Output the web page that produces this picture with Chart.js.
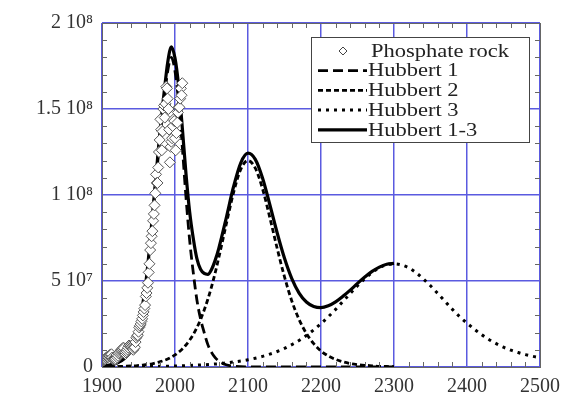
<!DOCTYPE html>
<html>
<head>
<meta charset="utf-8">
<script src="https://cdn.jsdelivr.net/npm/chart.js@4.4.1/dist/chart.umd.min.js"></script>
<style>
  body { margin: 0; background: #fff; }
  canvas { display: block; }
</style>
</head>
<body>
<canvas id="hubbertChart" width="581" height="398"></canvas>
<script>
// all values in units of 10^7 tonnes per year

// phosphate rock production, one value per year from 1900
const rockStartYear = 1900;
const rockValues = [
  0.32, 0.35, 0.38, 0.42, 0.45, 0.48, 0.54, 0.59, 0.56, 0.60,
  0.65, 0.70, 0.73, 0.74, 0.55, 0.45, 0.48, 0.46, 0.42, 0.48,
  0.70, 0.55, 0.65, 0.78, 0.85, 0.92, 0.98, 1.00, 1.06, 1.12,
  1.10, 0.85, 0.75, 0.84, 0.92, 1.02, 1.13, 1.25, 1.20, 1.21,
  1.15, 1.10, 1.05, 1.00, 1.10, 1.15, 1.45, 1.70, 1.80, 1.85,
  2.05, 2.30, 2.40, 2.50, 2.65, 2.80, 3.00, 3.20, 3.40, 3.60,
  4.10, 4.30, 4.60, 4.90, 5.50, 6.00, 6.80, 7.20, 7.60, 7.90,
  8.50, 8.90, 9.40, 10.1, 11.2, 10.7, 10.7, 11.6, 12.5, 13.2,
  14.4, 13.8, 12.6, 13.7, 15.0, 15.2, 14.5, 15.3, 16.3, 16.2,
  15.6, 15.0, 13.8, 11.9, 12.8, 13.1, 13.3, 14.0, 14.4, 14.3,
  13.3, 12.6, 13.6, 14.2, 14.8, 15.1, 15.1, 15.6, 16.2, 15.8,
  16.5
];

// years for Hubbert 1, Hubbert 2 and the sum
const curveYears = [
  1900, 1910, 1920, 1930, 1940, 1945, 1950, 1955, 1960, 1965,
  1970, 1975, 1980, 1985, 1990, 1995, 2000, 2005, 2010, 2015,
  2020, 2025, 2030, 2035, 2040, 2045, 2050, 2055, 2060, 2070,
  2080, 2090, 2100, 2110, 2120, 2130, 2140, 2150, 2160, 2170,
  2180, 2190, 2200, 2210, 2220, 2230, 2240, 2250, 2260, 2270,
  2280, 2290, 2300
];
const hubbert1 = [
  0.03, 0.08, 0.20, 0.45, 1.00, 1.50, 2.20, 3.30, 4.70, 6.70,
  9.00, 11.3, 13.6, 15.5, 17.2, 18.0, 17.2, 15.4, 12.8, 9.90,
  7.40, 5.50, 3.90, 2.80, 2.00, 1.30, 0.85, 0.55, 0.35, 0.13,
  0.05, 0.02, 0.01, 0, 0, 0, 0, 0, 0, 0,
  0, 0, 0, 0, 0, 0, 0, 0, 0, 0,
  0, 0, 0
];
const hubbert2 = [
  0.01, 0.015, 0.02, 0.04, 0.06, 0.07, 0.09, 0.11, 0.14, 0.16,
  0.20, 0.25, 0.31, 0.38, 0.46, 0.57, 0.70, 0.86, 1.05, 1.28,
  1.56, 1.89, 2.29, 2.76, 3.31, 3.94, 4.66, 5.47, 6.36, 8.26,
  10.11, 11.49, 12.0, 11.56, 10.35, 8.67, 6.89, 5.24, 3.84, 2.76,
  1.95, 1.36, 0.93, 0.64, 0.44, 0.30, 0.20, 0.14, 0.10, 0.07,
  0.04, 0.03, 0.02
];
const hubbertSum = [
  0.05, 0.11, 0.23, 0.51, 1.08, 1.59, 2.31, 3.44, 4.87, 6.89,
  9.23, 11.59, 13.95, 15.92, 17.71, 18.62, 17.96, 16.33, 13.92, 11.26,
  9.05, 7.49, 6.30, 5.68, 5.44, 5.39, 5.67, 6.20, 6.90, 8.63,
  10.45, 11.86, 12.43, 12.07, 10.97, 9.42, 7.79, 6.32, 5.14, 4.30,
  3.78, 3.52, 3.45, 3.56, 3.79, 4.11, 4.47, 4.86, 5.23, 5.56,
  5.81, 5.97, 6.02
];

// Hubbert 3 runs on to 2500
const h3Years = [
  1900, 1910, 1920, 1930, 1940, 1950, 1960, 1970, 1980, 1990,
  2000, 2010, 2020, 2030, 2040, 2050, 2060, 2070, 2080, 2090,
  2100, 2110, 2120, 2130, 2140, 2150, 2160, 2170, 2180, 2190,
  2200, 2210, 2220, 2230, 2240, 2250, 2260, 2270, 2280, 2290,
  2300, 2310, 2320, 2330, 2340, 2350, 2360, 2370, 2380, 2390,
  2400, 2410, 2420, 2430, 2440, 2450, 2460, 2470, 2480, 2490,
  2500
];
const hubbert3 = [
  0.008, 0.01, 0.012, 0.015, 0.018, 0.022, 0.027, 0.032, 0.04, 0.048,
  0.059, 0.072, 0.088, 0.107, 0.13, 0.16, 0.19, 0.24, 0.29, 0.35,
  0.42, 0.51, 0.62, 0.75, 0.90, 1.08, 1.30, 1.54, 1.83, 2.16,
  2.52, 2.92, 3.35, 3.81, 4.27, 4.72, 5.13, 5.49, 5.77, 5.94,
  6.00, 5.94, 5.77, 5.49, 5.13, 4.72, 4.27, 3.81, 3.35, 2.92,
  2.55, 2.20, 1.88, 1.60, 1.36, 1.15, 0.98, 0.84, 0.72, 0.62,
  0.54
];

const xTickLabels = ["1900", "2000", "2100", "2200", "2300", "2400", "2500"];
const yTickLabels = ["0", "5 10\u2077", "1 10\u2078", "1.5 10\u2078", "2 10\u2078"];
const legendNames = ["Phosphate rock", "Hubbert 1", "Hubbert 2", "Hubbert 3", "Hubbert 1-3"];

const toPoints = (xs, ys) => ys.map((v, i) => ({ x: xs[i], y: v }));
const rockYears = rockValues.map((v, i) => rockStartYear + i);

const serif = "'Liberation Serif', 'Times New Roman', serif";
const gridBlue = "#5a5ae0";

// frame, minor ticks and the boxed legend inside the plot
const frameAndLegend = {
  id: "frameAndLegend",
  afterDatasetsDraw(chart) {
    const { ctx, chartArea: a, scales } = chart;
    ctx.save();
    ctx.strokeStyle = "#666";
    ctx.lineWidth = 1;
    ctx.beginPath();
    for (let v = 1900; v <= 2500; v += 20) {
      if (v % 100 === 0) continue;
      const px = Math.round(scales.x.getPixelForValue(v)) + 0.5;
      ctx.moveTo(px, a.bottom); ctx.lineTo(px, a.bottom - 5);
      ctx.moveTo(px, a.top); ctx.lineTo(px, a.top + 5);
    }
    for (let v = 1; v < 20; v++) {
      if (v % 5 === 0) continue;
      const py = Math.round(scales.y.getPixelForValue(v)) + 0.5;
      ctx.moveTo(a.left, py); ctx.lineTo(a.left + 5, py);
      ctx.moveTo(a.right, py); ctx.lineTo(a.right - 5, py);
    }
    ctx.stroke();
    ctx.strokeRect(Math.round(a.left) + 0.5, Math.round(a.top) + 0.5,
      Math.round(a.right - a.left), Math.round(a.bottom - a.top));

    // legend
    const lx = 311, ly = 37, lw = 218, lh = 105;
    ctx.fillStyle = "#fff";
    ctx.fillRect(lx, ly, lw, lh);
    ctx.strokeStyle = "#444";
    ctx.strokeRect(lx + 0.5, ly + 0.5, lw, lh);
    ctx.font = "18px " + serif;
    ctx.textBaseline = "middle";
    legendNames.forEach((name, i) => {
      const ds = chart.data.datasets.find((d) => d.label === name);
      const ry = 51 + i * 19.7;
      if (ds.showLine === false) {
        ctx.fillStyle = "#fff";
        ctx.strokeStyle = "#444";
        ctx.lineWidth = 1;
        Chart.helpers.drawPoint(ctx, { pointStyle: ds.pointStyle, radius: 4, borderWidth: 1 }, 343, ry);
      } else {
        ctx.strokeStyle = "#000";
        ctx.lineWidth = ds.borderWidth;
        ctx.setLineDash(ds.borderDash || []);
        ctx.beginPath();
        ctx.moveTo(318, ry); ctx.lineTo(367, ry);
        ctx.stroke();
        ctx.setLineDash([]);
      }
      ctx.save();
      ctx.translate(i === 0 ? 371 : 368, ry + 1);
      ctx.scale(1.25, 1);
      ctx.fillStyle = "#222";
      ctx.fillText(name, 0, 0);
      ctx.restore();
    });
    ctx.restore();
  },
};

const ctx = document.getElementById("hubbertChart").getContext("2d");

const myChart = new Chart(ctx, {
  type: "line",
  data: {
    datasets: [
      {
        label: "Phosphate rock",
        data: toPoints(rockYears, rockValues),
        showLine: false,
        pointStyle: "rectRot",
        pointRadius: 5.5,
        pointBackgroundColor: "#fff",
        pointBorderColor: "#555",
        pointBorderWidth: 1,
      },
      {
        label: "Hubbert 1-3",
        data: toPoints(curveYears, hubbertSum),
        borderColor: "#000",
        borderWidth: 3.2,
        pointRadius: 0,
        cubicInterpolationMode: "monotone",
      },
      {
        label: "Hubbert 1",
        data: toPoints(curveYears, hubbert1),
        borderColor: "#000",
        borderWidth: 2.8,
        borderDash: [10, 5],
        pointRadius: 0,
        cubicInterpolationMode: "monotone",
      },
      {
        label: "Hubbert 2",
        data: toPoints(curveYears, hubbert2),
        borderColor: "#000",
        borderWidth: 2.8,
        borderDash: [5, 3],
        pointRadius: 0,
        cubicInterpolationMode: "monotone",
      },
      {
        label: "Hubbert 3",
        data: toPoints(h3Years, hubbert3),
        borderColor: "#000",
        borderWidth: 3,
        borderDash: [3, 5],
        pointRadius: 0,
        cubicInterpolationMode: "monotone",
      },
    ],
  },
  options: {
    responsive: false,
    animation: false,
    layout: { padding: { top: 23, right: 41, left: 0, bottom: 0 } },
    plugins: { legend: { display: false }, tooltip: { enabled: false } },
    scales: {
      x: {
        type: "linear",
        min: 1900,
        max: 2500,
        afterFit: (scale) => { scale.height = 31; },
        ticks: {
          stepSize: 100,
          padding: 8,
          color: "#333",
          font: { family: serif, size: 20 },
          callback: (v) => xTickLabels[(v - 1900) / 100],
        },
        grid: { color: gridBlue, lineWidth: 1.5, drawTicks: false },
        border: { display: false },
      },
      y: {
        min: 0,
        max: 20,
        afterFit: (scale) => { scale.width = 102; },
        ticks: {
          stepSize: 5,
          padding: 9,
          color: "#333",
          font: { family: serif, size: 20 },
          callback: (v) => yTickLabels[v / 5],
        },
        grid: { color: gridBlue, lineWidth: 1.5, drawTicks: false },
        border: { display: false },
      },
    },
  },
  plugins: [frameAndLegend],
});
</script>
</body>
</html>
